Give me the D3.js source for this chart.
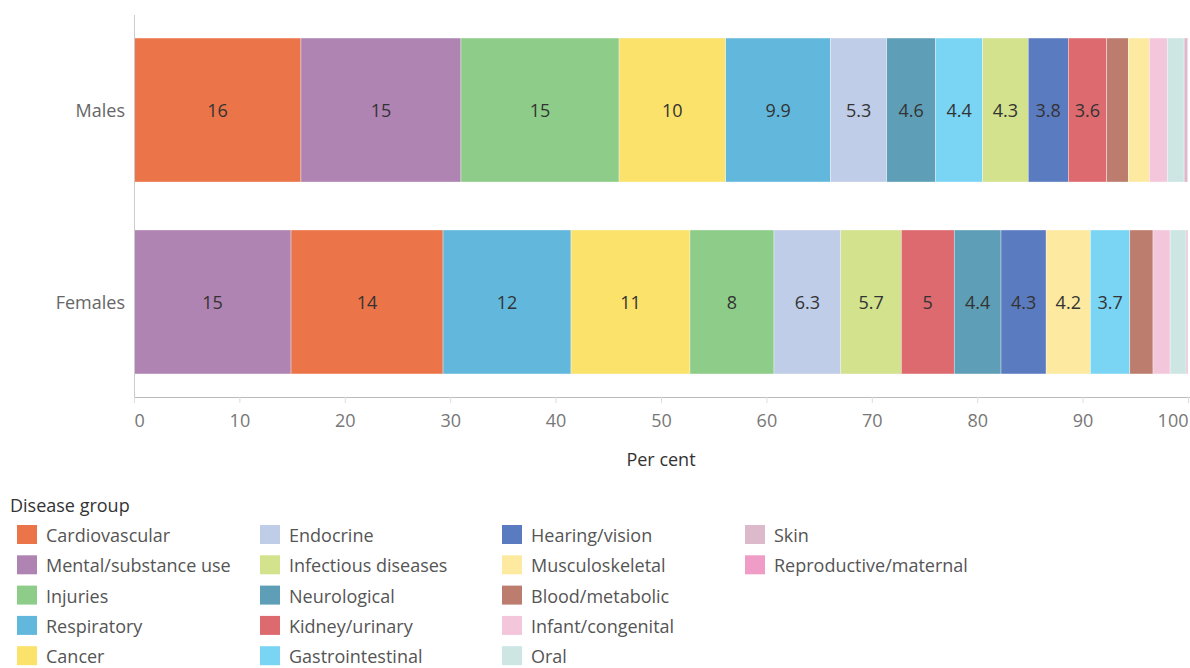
<!DOCTYPE html>
<html><head><meta charset="utf-8">
<script src="https://cdn.jsdelivr.net/npm/d3@7"></script>
<style>
body{margin:0;background:#fff;}
svg text{font-family:"Open Sans",Lato,sans-serif;}
</style></head>
<body><svg id="chart" width="1190" height="668"></svg>
<script>
const sexes = ["Males", "Females"];
const groups = ["Cardiovascular","Mental/substance use","Injuries","Respiratory","Cancer",
  "Endocrine","Infectious diseases","Neurological","Kidney/urinary","Gastrointestinal",
  "Hearing/vision","Musculoskeletal","Blood/metabolic","Infant/congenital","Oral",
  "Skin","Reproductive/maternal"];
const colors = ["#EB7449","#AF83B2","#8DCD89","#62B8DC","#FBE26A",
  "#BFCDE8","#D2E28D","#5E9FB7","#DD6A6F","#7AD5F4",
  "#5B7BC0","#FDEAA0","#BC7D6E","#F4C6DB","#CDE6E4",
  "#DDBACB","#EF9DC6"];
const malesValues   = [15.84,15.18,15.0,9.94,10.12, 5.34,4.34,4.64,3.64,4.44, 3.8,2.0,2.05,1.7,1.6, 0.3,0.07];
const femalesValues = [14.42,14.9,7.97,12.14,11.29, 6.34,5.74,4.44,5.02,3.74, 4.28,4.2,2.2,1.62,1.52, 0.1,0.08];
const xTicks = [0,10,20,30,40,50,60,70,80,90,100];

const FS = 18;
const svg = d3.select("#chart");
const x = d3.scaleLinear().domain([0,100]).range([134,1188]);
const y = d3.scaleBand().domain(sexes).range([15,397]).paddingInner(0.25).paddingOuter(0.12);
const color = d3.scaleOrdinal().domain(groups).range(colors);
const fmt = d3.format(".2~r");

const valuesBySex = {Males: malesValues, Females: femalesValues};
sexes.forEach(s => {
  const items = groups.map((g,i)=>({group:g, value:valuesBySex[s][i]}))
    .sort((a,b)=>b.value-a.value);
  let acc = 0;
  items.forEach(d=>{d.x0=acc; acc+=d.value; d.x1=acc;});
  const g = svg.append("g");
  g.selectAll("rect").data(items).join("rect")
    .attr("x", d=>x(d.x0)).attr("width", d=>x(d.x1)-x(d.x0))
    .attr("y", y(s)).attr("height", y.bandwidth())
    .attr("fill", d=>color(d.group))
    .attr("stroke","#fff").attr("stroke-width",0.5).attr("stroke-opacity",0.7);
  g.selectAll("text").data(items.filter(d=>d.value>=3.5)).join("text")
    .attr("x", d=>x((d.x0+d.x1)/2)).attr("y", y(s)+y.bandwidth()/2)
    .attr("text-anchor","middle").attr("dy","0.38em")
    .attr("font-size",FS).attr("fill","#333")
    .text(d=>fmt(d.value));
});

// axes lines
svg.append("line").attr("x1",134.5).attr("x2",134.5).attr("y1",15).attr("y2",397)
  .attr("stroke","#ccc").attr("stroke-width",1);
const xAxis = svg.append("g").attr("transform","translate(0,397)")
  .call(d3.axisBottom(x).tickValues(xTicks).tickSize(6).tickFormat(d3.format("d")));
xAxis.select(".domain").attr("stroke","#bbb").attr("d","M134,0.5H1190");
xAxis.selectAll(".tick line").attr("stroke","#ddd");
xAxis.selectAll(".tick text").attr("font-size",FS).attr("fill","#777")
  .attr("font-family","'Open Sans',Lato,sans-serif")
  .attr("y",30).attr("dy",0)
  .attr("text-anchor",(d,i,n)=> i===0 ? "start" : (i===n.length-1 ? "end" : "middle"));
svg.append("text").attr("x",661).attr("y",466).attr("text-anchor","middle")
  .attr("font-size",FS).attr("fill","#333").text("Per cent");

const yAxis = svg.append("g").attr("transform","translate(134,0)")
  .call(d3.axisLeft(y).tickSize(0).tickPadding(9));
yAxis.select(".domain").remove();
yAxis.selectAll(".tick text").attr("font-size",FS).attr("fill","#666")
  .attr("font-family","'Open Sans',Lato,sans-serif").attr("dy","0.38em");

// legend
const leg = svg.append("g");
leg.append("text").attr("x",10).attr("y",512).attr("font-size",FS).attr("fill","#333").text("Disease group");
const colX = [17,260,502,745], rowY = 525, rowStep = 30.3;
const li = leg.selectAll("g.item").data(groups).join("g")
  .attr("transform",(d,i)=>`translate(${colX[Math.floor(i/5)]},${rowY+(i%5)*rowStep})`);
li.append("rect").attr("width",20).attr("height",19).attr("fill",d=>color(d));
li.append("text").attr("x",29).attr("y",17).attr("font-size",FS)
  .attr("fill","#555").text(d=>d);
</script></body></html>
